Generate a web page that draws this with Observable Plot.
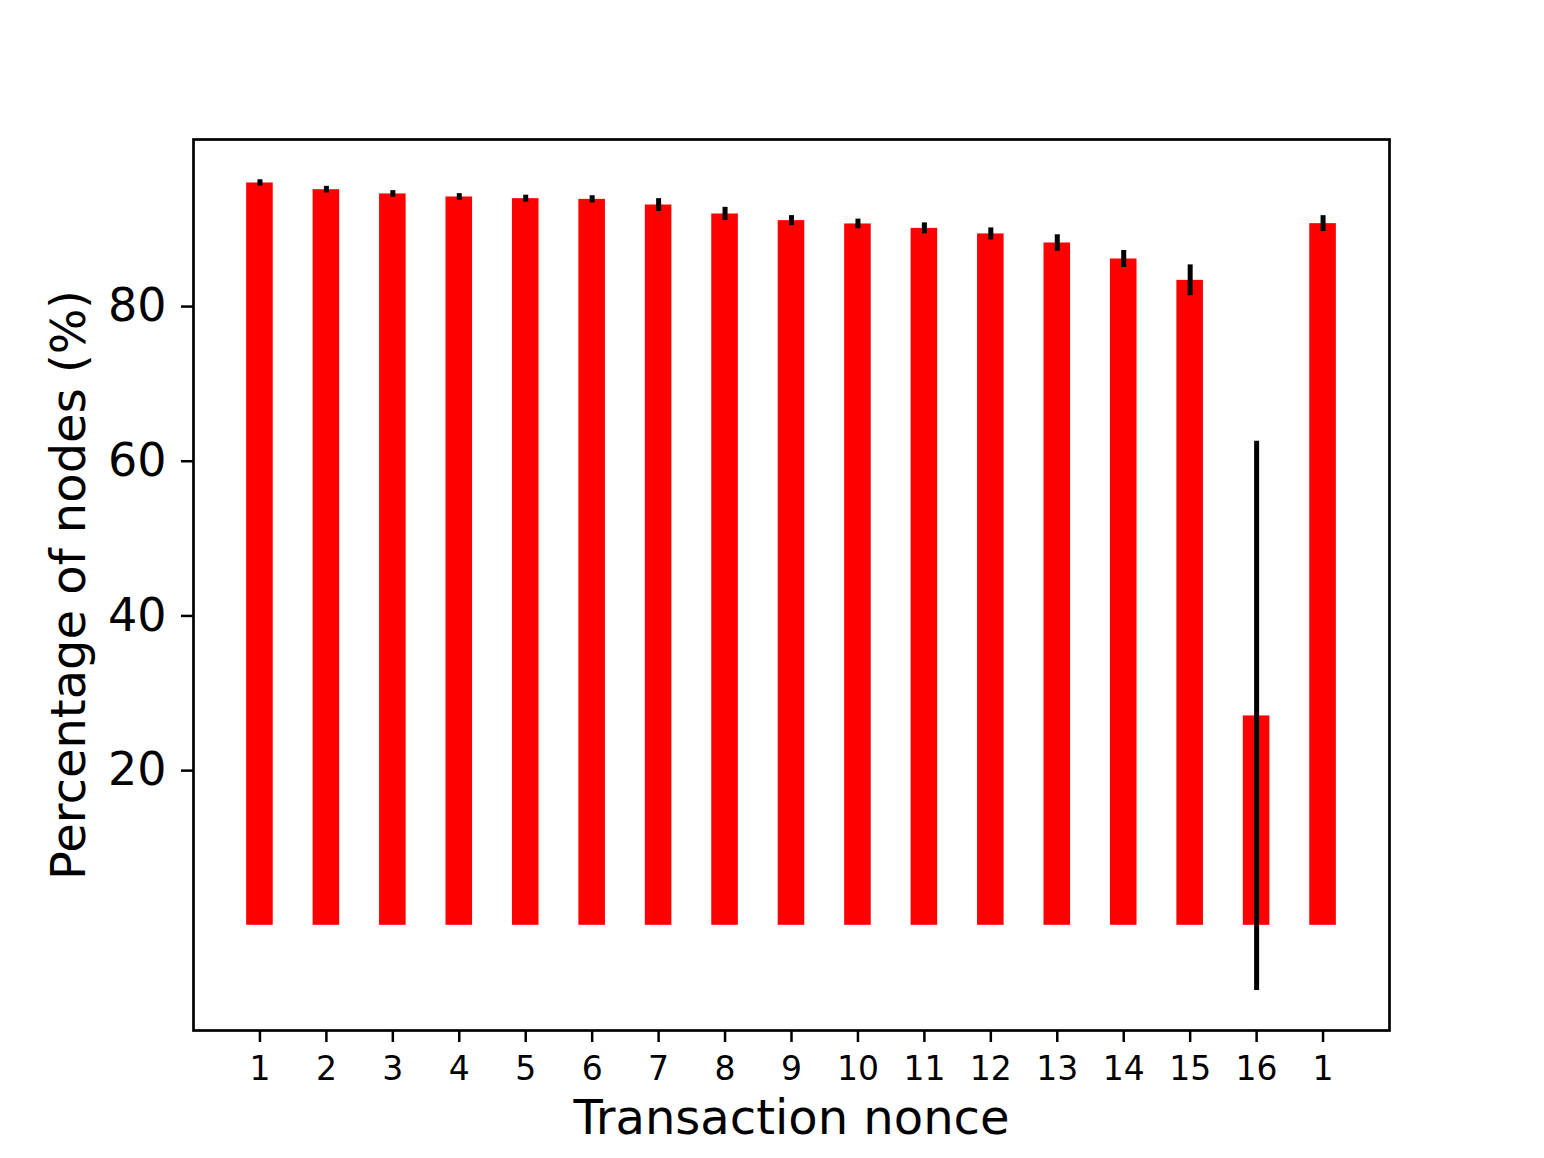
<!DOCTYPE html>
<html>
<head>
<meta charset="utf-8">
<script src="https://cdn.jsdelivr.net/npm/d3@7"></script>
<script src="https://cdn.jsdelivr.net/npm/@observablehq/plot@0.6"></script>
<style>
  html, body { margin: 0; padding: 0; background: white; }
</style>
</head>
<body>
<div id="chart"></div>
<script>
const nonceLabels = ["1","2","3","4","5","6","7","8","9","10","11","12","13","14","15","16","1"];
const meanPct = [95.98, 95.11, 94.56, 94.17, 93.95, 93.86, 93.13, 91.97, 91.11, 90.68, 90.11, 89.39, 88.22, 86.15, 83.39, 27.07, 90.72];
const errPct  = [0.41, 0.43, 0.43, 0.43, 0.45, 0.47, 0.82, 0.86, 0.65, 0.63, 0.71, 0.78, 1.06, 1.10, 2.0, 35.5, 1.03];
const yTicks = [20, 40, 60, 80];

const data = meanPct.map((v, i) => ({i, v, e: errPct[i]}));

const chart = Plot.plot({
  width: 1544,
  height: 1158,
  marginLeft: 193,
  marginRight: 155,
  marginTop: 139,
  marginBottom: 128,
  style: {fontFamily: "DejaVu Sans", background: "white", color: "black", overflow: "visible"},
  x: {type: "band", domain: d3.range(nonceLabels.length), paddingInner: 0.6, paddingOuter: 0.8, round: false},
  y: {domain: [-13.6, 101.6]},
  marks: [
    Plot.barY(data, {x: "i", y: "v", fill: "#ff0000"}),
    Plot.ruleX(data, {x: "i", y1: d => d.v - d.e, y2: d => d.v + d.e, stroke: "black", strokeWidth: 5}),
    Plot.frame({stroke: "black", strokeWidth: 2.7}),
    Plot.axisX({tickSize: 12, tickPadding: 14, tickFormat: i => nonceLabels[i], fontSize: 33, label: null, strokeWidth: 2.5}),
    Plot.axisY({ticks: yTicks, tickSize: 12, tickPadding: 15, fontSize: 46, label: null, strokeWidth: 2.5}),
    Plot.text(["Transaction nonce"], {frameAnchor: "bottom", dy: 88, fontSize: 48, textAnchor: "middle", lineAnchor: "middle"}),
    Plot.text(["Percentage of nodes (%)"], {frameAnchor: "left", dx: -124, rotate: -90, fontSize: 48, textAnchor: "middle", lineAnchor: "middle"})
  ]
});
document.getElementById("chart").appendChild(chart);
</script>
</body>
</html>
